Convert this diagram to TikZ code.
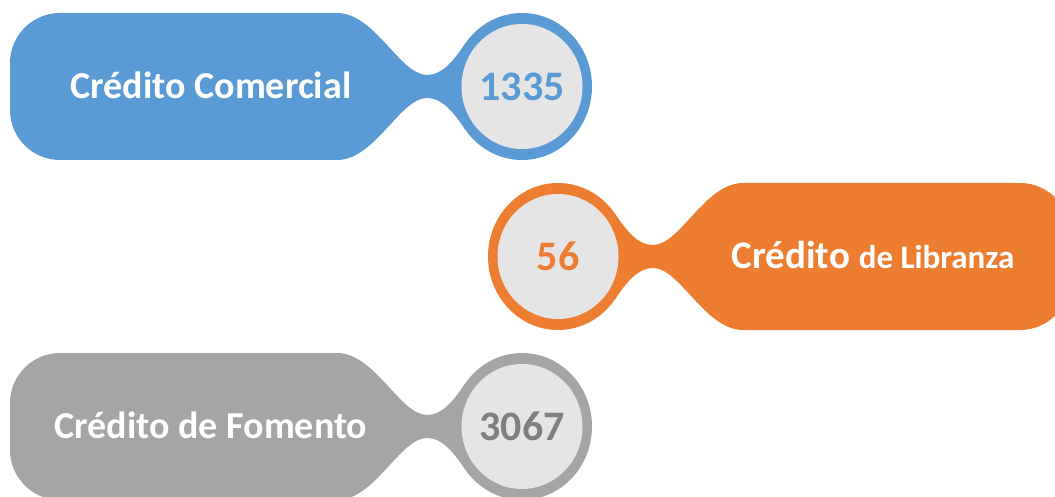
\documentclass[tikz,border=0pt]{standalone}
\usepackage{fontspec}
\setmainfont{Carlito}

\definecolor{cblue}{HTML}{5B9BD5}
\definecolor{corange}{HTML}{ED7D31}
\definecolor{cgray}{HTML}{A5A5A5}
\definecolor{cnumgray}{HTML}{7F7F7F}
\definecolor{cdisc}{HTML}{E5E5E5}

\tikzset{
  lbl/.style={text=white, font=\bfseries\fontsize{38}{42}\selectfont, anchor=base, inner sep=0pt},
  num/.style={font=\bfseries\fontsize{42}{46}\selectfont, anchor=base, inner sep=0pt},
}

% Tag body: rounded box on the left, smooth neck, disc centred at the origin
\newcommand\tagbody[1]{%
  \fill[#1] (-462,73.5) -- (-185,73.5)
    .. controls (-147,73.5) and (-122,11.5) .. (-95,11.5)
    .. controls (-80,11.5) and (-69.2,24.8) .. (-57,42.7)
    -- (0,0) -- (-57,-42.7)
    .. controls (-69.2,-24.8) and (-80,-11.5) .. (-95,-11.5)
    .. controls (-122,-11.5) and (-147,-73.5) .. (-185,-73.5)
    -- (-462,-73.5) arc[start angle=270, end angle=180, radius=50]
    -- (-512,23.5) arc[start angle=180, end angle=90, radius=50] -- cycle;
  \fill[#1] (0,0) ellipse[x radius=70, y radius=73.5];
  \fill[cdisc] (0,0) ellipse[x radius=60.5, y radius=62.5];
}

\begin{document}
\begin{tikzpicture}[x=1pt, y=1pt]
\useasboundingbox (0,0) rectangle (1055,496);

\begin{scope}[shift={(522,409.5)}]
  \tagbody{cblue}
  \node[lbl] (comercial) at (-311,-12) {Crédito Comercial};
  \node[num, text=cblue] (ncomercial) at (0,-14) {1335};
\end{scope}

\begin{scope}[shift={(558,239.5)}, xscale=-1]
  \tagbody{corange}
  \node[lbl, font=\bfseries\fontsize{39}{43}\selectfont] (libranza) at (-315,-12)
    {Crédito {\fontsize{33}{36}\selectfont de Libranza}};
  \node[num, text=corange] (nlibranza) at (0,-14) {56};
\end{scope}

\begin{scope}[shift={(522,69.5)}]
  \tagbody{cgray}
  \node[lbl] (fomento) at (-311,-12) {Crédito de Fomento};
  \node[num, text=cnumgray] (nfomento) at (0,-14) {3067};
\end{scope}
\end{tikzpicture}
\end{document}
